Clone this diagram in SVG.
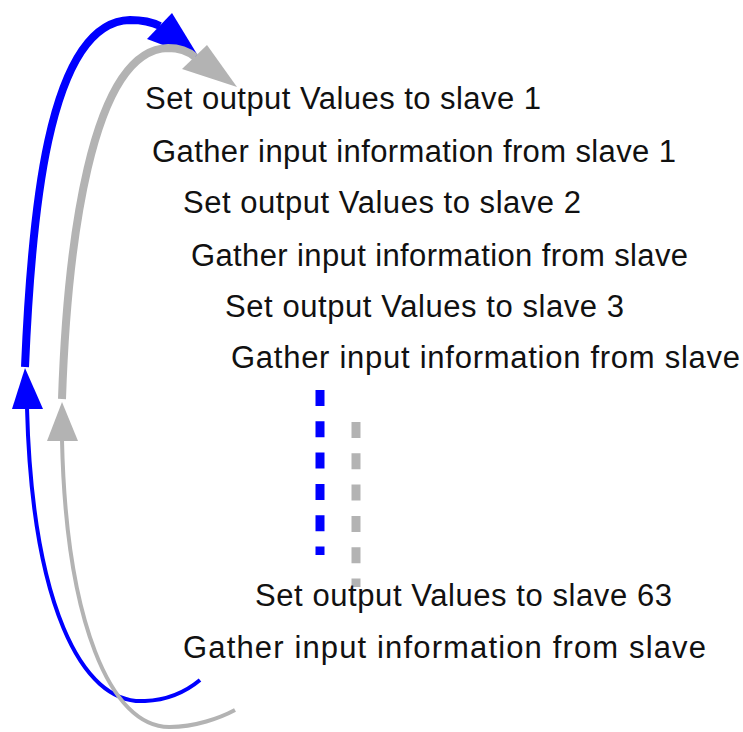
<svg xmlns="http://www.w3.org/2000/svg" width="743" height="732" viewBox="0 0 743 732">
<style>
.t{font-family:"Liberation Sans",Arial,sans-serif;font-size:31px;fill:#111}
.b{fill:none;stroke:#0000ff;stroke-linecap:butt}
.g{fill:none;stroke:#b3b3b3;stroke-linecap:butt}
.bh{fill:#0000ff}
.gh{fill:#b3b3b3}
.thick{stroke-width:8}
.thin{stroke-width:4}
.dash{stroke-width:9;stroke-dasharray:16 15.3}
</style>
<rect width="743" height="732" fill="#fff"/>
<g id="connectors">
<path class="b thick" d="M25,367 C31,225 46,22 130,20 C143,20 152,22 160,26"/>
<polygon class="bh" points="172,13 147,39 200,59"/>
<path class="g thick" d="M62,399 C67,250 90,50 168,48 C180,48 188,51 195,57"/>
<polygon class="gh" points="207,45 182,69 237,87"/>
<path class="b thin" d="M27,408 C32,600 80,705 145,701 C170,700 188,690 200,680"/>
<polygon class="bh" points="25,368 12,409 43,409"/>
<path class="g thin" d="M62,440 C66,620 110,728 170,727 C195,727 220,718 235,710"/>
<polygon class="gh" points="62,402 47,441 78,441"/>
<line class="b dash" x1="320" y1="390" x2="320" y2="555"/>
<line class="g dash" x1="356" y1="422" x2="356" y2="587"/>
</g>
<g id="n1"><text class="t" x="145" y="109" textLength="396" lengthAdjust="spacing">Set output Values to slave 1</text></g>
<g id="n2"><text class="t" x="152" y="162" textLength="524" lengthAdjust="spacing">Gather input information from slave 1</text></g>
<g id="n3"><text class="t" x="183" y="213" textLength="398" lengthAdjust="spacing">Set output Values to slave 2</text></g>
<g id="n4"><text class="t" x="191" y="266" textLength="497" lengthAdjust="spacing">Gather input information from slave</text></g>
<g id="n5"><text class="t" x="225" y="317" textLength="399" lengthAdjust="spacing">Set output Values to slave 3</text></g>
<g id="n6"><text class="t" x="231" y="368" textLength="509" lengthAdjust="spacing">Gather input information from slave</text></g>
<g id="n7"><text class="t" x="255" y="606" textLength="417" lengthAdjust="spacing">Set output Values to slave 63</text></g>
<g id="n8"><text class="t" x="183" y="658" textLength="523" lengthAdjust="spacing">Gather input information from slave</text></g>
</svg>
